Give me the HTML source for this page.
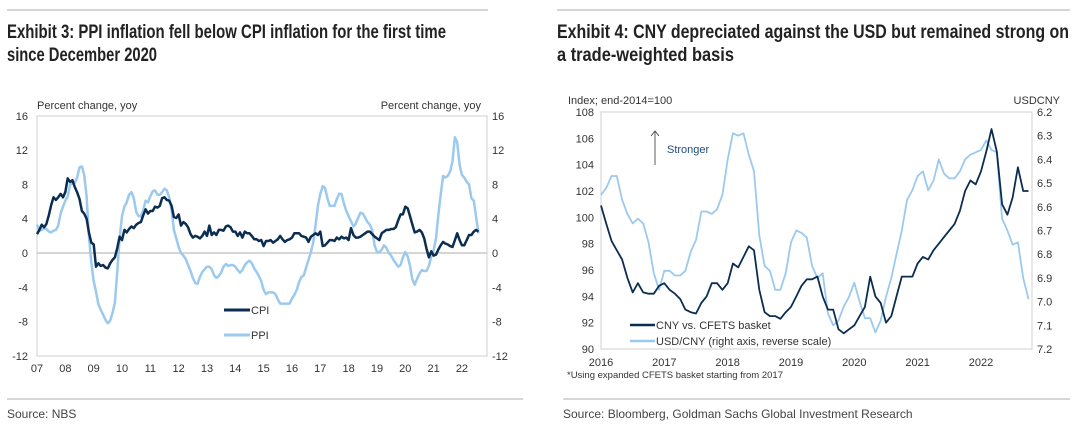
<!DOCTYPE html>
<html><head><meta charset="utf-8"><style>
body{margin:0;background:#fff}
svg{display:block;font-family:"Liberation Sans Narrow","Liberation Sans",sans-serif}
</style></head><body>
<svg id="s" width="1077" height="431" viewBox="0 0 1077 431">
<line x1="7" y1="10" x2="488" y2="10" stroke="#c8c8c8" stroke-width="1.5"/>
<line x1="557" y1="10" x2="1070" y2="10" stroke="#c8c8c8" stroke-width="1.5"/>
<text x="7" y="38" font-size="19" font-weight="bold" fill="#222" textLength="439" lengthAdjust="spacingAndGlyphs">Exhibit 3: PPI inflation fell below CPI inflation for the first time</text>
<text x="7" y="61" font-size="19" font-weight="bold" fill="#222" textLength="150" lengthAdjust="spacingAndGlyphs">since December 2020</text>
<text x="557" y="38" font-size="19" font-weight="bold" fill="#222" textLength="512" lengthAdjust="spacingAndGlyphs">Exhibit 4: CNY depreciated against the USD but remained strong on</text>
<text x="557" y="61" font-size="19" font-weight="bold" fill="#222" textLength="177" lengthAdjust="spacingAndGlyphs">a trade-weighted basis</text>
<line x1="7" y1="399" x2="523" y2="399" stroke="#c8c8c8" stroke-width="1.5"/>
<line x1="563" y1="399" x2="1070" y2="399" stroke="#c8c8c8" stroke-width="1.5"/>
<text x="7" y="418" font-size="12" fill="#444">Source: NBS</text>
<text x="563" y="418" font-size="12" fill="#444">Source: Bloomberg, Goldman Sachs Global Investment Research</text>
<g id="L"></g><g id="R"></g>
</svg>
<script>
const cpi=[2.2,2.7,3.3,3.0,3.4,4.4,5.6,6.5,6.2,6.5,6.9,6.5,7.1,8.7,8.3,8.5,7.7,7.1,6.3,4.9,4.6,4.0,2.4,1.2,1.0,-1.6,-1.2,-1.5,-1.4,-1.7,-1.8,-1.2,-0.8,-0.5,0.6,1.9,1.5,2.7,2.4,2.8,3.1,2.9,3.3,3.5,3.6,4.4,5.1,4.6,4.9,4.9,5.4,5.3,5.5,6.4,6.5,6.2,6.1,5.5,4.2,4.1,4.5,3.2,3.6,3.4,3.0,2.2,1.8,2.0,1.9,1.7,2.0,2.5,2.0,3.2,2.1,2.4,2.1,2.7,2.7,2.6,3.1,3.2,3.0,2.5,2.5,2.0,2.4,1.8,2.5,2.3,2.3,2.0,1.6,1.6,1.4,1.5,0.8,1.4,1.4,1.5,1.2,1.4,1.6,2.0,1.6,1.3,1.5,1.6,1.8,2.3,2.3,2.3,2.0,1.9,1.8,1.3,1.9,2.1,2.3,2.1,2.5,0.8,0.9,1.2,1.5,1.5,1.4,1.8,1.6,1.9,1.7,1.8,1.5,2.9,2.1,1.8,1.8,1.9,2.1,2.3,2.5,2.5,2.2,1.9,1.7,1.5,2.3,2.5,2.7,2.7,2.8,2.8,3.0,3.8,4.5,4.5,5.4,5.2,4.3,3.3,2.4,2.5,2.7,2.4,1.7,0.5,-0.5,0.2,-0.3,-0.2,0.4,0.9,1.3,1.1,1.0,0.8,0.7,1.5,2.3,1.5,0.9,0.9,1.5,2.1,2.1,2.5,2.7,2.5];
const ppi=[3.3,2.6,2.7,2.9,2.8,2.5,2.4,2.6,2.7,3.2,4.6,5.4,6.1,6.6,8.0,8.1,8.2,8.8,10.0,10.1,9.1,6.6,2.0,-1.1,-3.3,-4.5,-6.0,-6.6,-7.2,-7.8,-8.2,-7.9,-7.0,-5.8,-2.1,1.7,4.3,5.4,5.9,6.8,7.1,6.4,4.8,4.3,4.3,5.0,6.1,5.9,6.6,7.2,7.3,6.8,6.8,7.1,7.5,7.3,6.5,5.0,2.7,1.7,0.7,0.0,-0.3,-0.7,-1.4,-2.1,-2.9,-3.5,-3.6,-2.8,-2.2,-1.9,-1.6,-1.6,-1.9,-2.6,-2.9,-2.7,-2.3,-1.6,-1.3,-1.5,-1.4,-1.4,-1.6,-2.0,-2.3,-2.0,-1.4,-1.1,-0.9,-1.2,-1.8,-2.2,-2.7,-3.3,-4.3,-4.8,-4.6,-4.6,-4.6,-4.8,-5.4,-5.9,-5.9,-5.9,-5.9,-5.9,-5.3,-4.9,-4.3,-3.4,-2.8,-2.6,-1.7,-0.8,0.1,1.2,3.3,5.5,6.9,7.8,7.6,6.4,5.5,5.5,5.5,6.3,6.9,6.9,5.8,4.9,4.3,3.7,3.1,3.4,4.1,4.7,4.6,4.1,3.6,3.3,2.7,0.9,0.1,0.1,0.4,0.9,0.6,0.0,-0.3,-0.8,-1.2,-1.6,-1.4,-0.5,0.1,-0.4,-1.5,-3.1,-3.7,-3.0,-2.4,-2.0,-2.1,-2.1,-1.5,-0.4,0.3,1.7,4.4,6.8,9.0,8.8,9.0,9.5,10.7,13.5,12.9,10.3,9.1,8.8,8.3,8.0,6.4,6.1,4.2,2.3];
const leftYTicks=[16,12,8,4,0,-4,-8,-12];
const leftXTicks=["07","08","09","10","11","12","13","14","15","16","17","18","19","20","21","22"];
const cfets=[100.9,99.5,98.2,97.5,96.8,95.4,94.3,95.0,94.3,94.2,94.2,94.8,95.0,94.5,94.2,93.8,93.0,92.8,92.7,93.5,94.0,95.0,95.0,94.5,95.0,96.5,96.2,97.0,97.8,97.5,94.5,92.8,92.5,92.5,92.3,92.8,93.2,94.0,94.8,95.3,95.3,95.5,94.0,93.0,93.0,91.5,91.2,91.5,91.8,92.5,93.2,95.5,94.0,93.5,92.0,92.5,94.0,95.5,95.5,95.5,96.5,97.0,96.8,97.5,98.0,98.5,99.0,99.5,100.5,102.0,102.8,102.5,103.5,105.0,106.7,105.0,101.0,100.2,101.5,103.8,102.0,102.0];
const usdcny=[6.55,6.52,6.47,6.47,6.57,6.63,6.67,6.65,6.67,6.75,6.88,6.95,6.87,6.87,6.89,6.89,6.87,6.79,6.74,6.62,6.62,6.63,6.61,6.55,6.40,6.29,6.30,6.29,6.38,6.45,6.72,6.85,6.87,6.95,6.95,6.88,6.75,6.70,6.71,6.73,6.85,6.90,6.88,7.05,7.10,7.08,7.02,6.98,6.92,7.00,7.07,7.07,7.13,7.08,6.98,6.90,6.80,6.70,6.57,6.53,6.47,6.45,6.53,6.49,6.40,6.46,6.48,6.48,6.45,6.40,6.38,6.37,6.36,6.32,6.36,6.37,6.65,6.70,6.76,6.75,6.90,6.99];
const rightYTicks=[108,106,104,102,100,98,96,94,92,90];
const rightY2Ticks=["6.2","6.3","6.4","6.5","6.6","6.7","6.8","6.9","7.0","7.1","7.2"];
const rightXTicks=["2016","2017","2018","2019","2020","2021","2022"];

const NS="http://www.w3.org/2000/svg";
function mk(p,tag,a,txt){const e=document.createElementNS(NS,tag);for(const k in a)e.setAttribute(k,a[k]);if(txt!==undefined)e.textContent=txt;p.appendChild(e);return e;}
const DARK="#0b2d52",LIGHT="#9cc9ee",AX="#333";

// LEFT
const L=document.getElementById('L');
const lx=t=>37+(t-2007)*28.33, ly=v=>253-v*8.57;
let e=mk(L,'rect',{x:37,y:116,width:450,height:240,fill:'none',stroke:'#d0d0d0'});


e=mk(L,'line',{x1:37,x2:487,y1:ly(0),y2:ly(0),stroke:'#c8c8c8','stroke-width':1.5});


leftYTicks.forEach(v=>{
 e=mk(L,'text',{x:28,y:ly(v)+4,'font-size':11,'text-anchor':'end',fill:AX},String(v));
 
 
 e=mk(L,'text',{x:492,y:ly(v)+4,'font-size':11,fill:AX},String(v));
 
 
});
leftXTicks.forEach((t,i)=>{
 e=mk(L,'text',{x:lx(2007+i),y:372,'font-size':11,'text-anchor':'middle',fill:AX},t);
 
 
});
e=mk(L,'text',{x:37,y:109,'font-size':11,fill:AX},'Percent change, yoy');


e=mk(L,'text',{x:481,y:109,'font-size':11,'text-anchor':'end',fill:AX},'Percent change, yoy');


function line(p,arr,fx,fy,col,w){return mk(p,'polyline',{points:arr.map((v,i)=>fx(i).toFixed(1)+','+fy(v).toFixed(1)).join(' '),fill:'none',stroke:col,'stroke-width':w,'stroke-linejoin':'round'});}
e=line(L,ppi,i=>lx(2007+i/12),ly,LIGHT,2.5);


e=line(L,cpi,i=>lx(2007+i/12),ly,DARK,2.5);


e=mk(L,'line',{x1:224,x2:250,y1:310,y2:310,stroke:DARK,'stroke-width':3});


e=mk(L,'text',{x:251,y:314,'font-size':11,fill:AX},'CPI');


e=mk(L,'line',{x1:224,x2:250,y1:335,y2:335,stroke:LIGHT,'stroke-width':3});


e=mk(L,'text',{x:251,y:339,'font-size':11,fill:AX},'PPI');



// RIGHT
const R=document.getElementById('R');
const rx=t=>601+(t-2016)*63.33, ry=v=>112+(108-v)*13.17, ry2=v=>112+(v-6.2)*237;
e=mk(R,'rect',{x:601,y:112,width:431,height:237,fill:'none',stroke:'#d0d0d0'});


rightYTicks.forEach(v=>{
 e=mk(R,'text',{x:594,y:ry(v)+4,'font-size':11,'text-anchor':'end',fill:AX},String(v));
 
 
});
rightY2Ticks.forEach(v=>{
 e=mk(R,'text',{x:1037,y:ry2(+v)+4,'font-size':11,fill:AX},v);
 
 
});
rightXTicks.forEach((t,i)=>{
 e=mk(R,'text',{x:rx(2016+i),y:366,'font-size':11,'text-anchor':'middle',fill:AX},t);
 
 
});
e=mk(R,'text',{x:568,y:104,'font-size':11,fill:AX},'Index; end-2014=100');


e=mk(R,'text',{x:1060,y:104,'font-size':11,'text-anchor':'end',fill:AX},'USDCNY');


e=line(R,usdcny,i=>rx(2016+i/12),ry2,LIGHT,1.8);


e=line(R,cfets,i=>rx(2016+i/12),ry,DARK,1.8);


e=mk(R,'line',{x1:655,x2:655,y1:165,y2:132,stroke:'#333','stroke-width':0.8});


e=mk(R,'polyline',{points:'651,136 655,131 659,136',fill:'none',stroke:'#333','stroke-width':0.8});


e=mk(R,'text',{x:667,y:153,'font-size':11,fill:'#1f4e79'},'Stronger');


e=mk(R,'line',{x1:630,x2:655,y1:325,y2:325,stroke:DARK,'stroke-width':2.5});


e=mk(R,'text',{x:656,y:329,'font-size':11,fill:AX},'CNY vs. CFETS basket');


e=mk(R,'line',{x1:630,x2:655,y1:341,y2:341,stroke:LIGHT,'stroke-width':2.5});


e=mk(R,'text',{x:656,y:345,'font-size':11,fill:AX},'USD/CNY (right axis, reverse scale)');


e=mk(R,'text',{x:567,y:378,'font-size':9.5,fill:AX},'*Using expanded CFETS basket starting from 2017');


</script>
</body></html>
